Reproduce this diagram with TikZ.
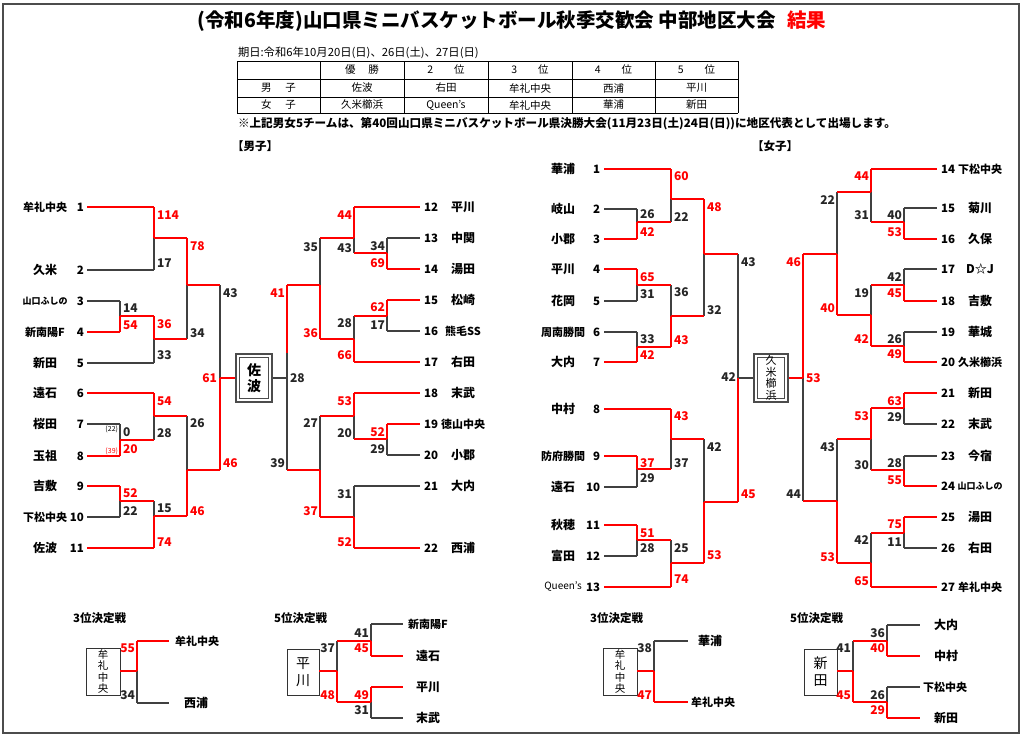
\documentclass[tikz,border=0pt]{standalone}
\usepackage{fontspec}
\setmainfont{Noto Sans CJK JP}
\newcounter{nd}
\newcommand\lb[3]{\stepcounter{nd}\node[#1] (n\arabic{nd}) at (#2) {#3};}
\newcommand\tmL[6]{\lb{#6}{#1,#3}{#5}\lb{sd,anchor=east}{#2,#3}{#4}}
\newcommand\tmR[6]{\lb{#6}{#1,#3}{#5}\lb{sd,anchor=west}{#2,#3}{#4}}
\begin{document}
\begin{tikzpicture}[x=1pt,y=-1pt,
 every node/.style={inner sep=0pt,outer sep=0pt},
 nm/.style={font=\fontsize{12}{12}\selectfont\bfseries},
 nm4/.style={font=\fontsize{11}{11}\selectfont\bfseries},
 nmq/.style={font=\fontsize{10}{10}\selectfont},
 nms/.style={font=\fontsize{9}{9}\selectfont\bfseries},
 sd/.style={font=\fontsize{11.5}{11.5}\selectfont\bfseries},
 sc/.style={font=\fontsize{12}{12}\selectfont\bfseries,text=black!85},
 scr/.style={sc,text=red},
 tiny/.style={font=\fontsize{7}{7}\selectfont},
 tb/.style={font=\fontsize{10.5}{10.5}\selectfont},
 hd/.style={font=\fontsize{11.5}{11.5}\selectfont\bfseries},
 L/.style={draw=black!75,line width=1.3pt,line cap=square},
 W/.style={draw=red,line width=2.2pt,line cap=square},
 bx/.style={draw=black!80,line width=1pt},
 dbo/.style={draw=black!70,line width=1.8pt},
 dbi/.style={draw=black!70,line width=1pt},
 ]
\useasboundingbox (0,0) rectangle (1024,736);
\fill[white] (0,0) rectangle (1024,736);
\draw[line width=2pt,black!70] (3,4) rectangle (1019,733);

% title
\lb{font=\fontsize{19.5}{19.5}\selectfont\bfseries}{512,21}{(令和6年度)山口県ミニバスケットボール秋季交歓会 中部地区大会\hspace{0.6em}\textcolor{red}{結果}}
\lb{font=\fontsize{11.3}{11.3}\selectfont,anchor=west}{238,53}{期日:令和6年10月20日(日)、26日(土)、27日(日)}
% table
\draw[line width=1pt] (237,61)--(738,61) (237,79)--(738,79) (237,97)--(738,97) (237,113)--(738,113);
\draw[line width=0.8pt] (237,61)--(237,113) (320,61)--(320,113) (404,61)--(404,113) (488,61)--(488,113) (572,61)--(572,113) (655,61)--(655,113) (738,61)--(738,113);
\lb{tb}{362,70}{優\hspace{1.2em}勝}
\lb{tb}{446,70}{2\hspace{2em}位}
\lb{tb}{530,70}{3\hspace{2em}位}
\lb{tb}{613.5,70}{4\hspace{2em}位}
\lb{tb}{696.5,70}{5\hspace{2em}位}
\lb{tb}{278.5,88}{男\hspace{1.3em}子}
\lb{tb}{362,88}{佐波}
\lb{tb}{446,88}{右田}
\lb{tb}{530,88}{牟礼中央}
\lb{tb}{613.5,88}{西浦}
\lb{tb}{696.5,88}{平川}
\lb{tb}{278.5,105}{女\hspace{1.3em}子}
\lb{tb}{362,105}{久米櫛浜}
\lb{tb}{446,105}{Queen's}
\lb{tb}{530,105}{牟礼中央}
\lb{tb}{613.5,105}{華浦}
\lb{tb}{696.5,105}{新田}
\lb{font=\fontsize{11.6}{11.6}\selectfont\bfseries,anchor=west}{238,124}{※上記男女5チームは、第40回山口県ミニバスケットボール県決勝大会(11月23日(土)24日(日))に地区代表として出場します。}
\lb{hd,anchor=west}{232,146}{【男子】}
\lb{hd,anchor=west}{752,146}{【女子】}

% ===== Boys left teams
\tmL{45}{84}{207}{1}{牟礼中央}{nm4}
\tmL{45}{84}{270}{2}{久米}{nm}
\tmL{45}{84}{301}{3}{山口ふしの}{nms}
\tmL{45}{84}{332}{4}{新南陽F}{nm4}
\tmL{45}{84}{363}{5}{新田}{nm}
\tmL{45}{84}{393}{6}{遠石}{nm}
\tmL{45}{84}{424}{7}{桜田}{nm}
\tmL{45}{84}{456}{8}{玉祖}{nm}
\tmL{45}{84}{486}{9}{吉敷}{nm}
\tmL{45}{84}{517}{10}{下松中央}{nm4}
\tmL{45}{84}{548}{11}{佐波}{nm}
% Boys right teams
\tmR{463}{424}{207}{12}{平川}{nm}
\tmR{463}{424}{238}{13}{中関}{nm}
\tmR{463}{424}{269}{14}{湯田}{nm}
\tmR{463}{424}{300}{15}{松崎}{nm}
\tmR{463}{424}{331}{16}{熊毛SS}{nm4}
\tmR{463}{424}{362}{17}{右田}{nm}
\tmR{463}{424}{393}{18}{末武}{nm}
\tmR{463}{424}{424}{19}{徳山中央}{nm4}
\tmR{463}{424}{455}{20}{小郡}{nm}
\tmR{463}{424}{486}{21}{大内}{nm}
\tmR{463}{424}{548}{22}{西浦}{nm}
% Girls left teams
\tmL{563}{600}{169}{1}{華浦}{nm}
\tmL{563}{600}{209}{2}{岐山}{nm}
\tmL{563}{600}{239}{3}{小郡}{nm}
\tmL{563}{600}{269}{4}{平川}{nm}
\tmL{563}{600}{301}{5}{花岡}{nm}
\tmL{563}{600}{332}{6}{周南勝間}{nm4}
\tmL{563}{600}{362}{7}{大内}{nm}
\tmL{563}{600}{409}{8}{中村}{nm}
\tmL{563}{600}{456}{9}{防府勝間}{nm4}
\tmL{563}{600}{487}{10}{遠石}{nm}
\tmL{563}{600}{525}{11}{秋穂}{nm}
\tmL{563}{600}{556}{12}{富田}{nm}
\tmL{563}{600}{587}{13}{Queen's}{nmq}
% Girls right teams
\tmR{980}{941}{169}{14}{下松中央}{nm4}
\tmR{980}{941}{208}{15}{菊川}{nm}
\tmR{980}{941}{239}{16}{久保}{nm}
\tmR{980}{941}{269}{17}{D☆J}{nm}
\tmR{980}{941}{301}{18}{吉敷}{nm}
\tmR{980}{941}{332}{19}{華城}{nm}
\tmR{980}{941}{362}{20}{久米櫛浜}{nm4}
\tmR{980}{941}{393}{21}{新田}{nm}
\tmR{980}{941}{424}{22}{末武}{nm}
\tmR{980}{941}{456}{23}{今宿}{nm}
\tmR{980}{941}{486}{24}{山口ふしの}{nms}
\tmR{980}{941}{517}{25}{湯田}{nm}
\tmR{980}{941}{548}{26}{右田}{nm}
\tmR{980}{941}{587}{27}{牟礼中央}{nm4}

% ===== black lines
\draw[L] (87,270)--(154,270) (87,301)--(120,301) (87,363)--(154,363) (87,424)--(120,424) (87,517)--(120,517)
 (120,301)--(120,316) (154,339)--(154,363) (154,238)--(154,270) (187,285)--(187,339) (120,424)--(120,440)
 (154,416)--(154,440) (120,501)--(120,517) (154,501)--(154,516) (187,416)--(187,470) (220,285)--(220,378);
\draw[L] (387,238)--(420,238) (387,331)--(420,331) (387,455)--(420,455) (354,486)--(420,486)
 (387,238)--(387,253) (354,238)--(354,253) (387,316)--(387,331) (354,316)--(354,339) (320,238)--(320,285)
 (387,439)--(387,455) (354,416)--(354,439) (354,486)--(354,517) (320,416)--(320,470) (287,353)--(287,470) (273,378)--(287,378);
\draw[L] (604,209)--(637,209) (604,301)--(637,301) (604,332)--(637,332) (604,487)--(637,487) (604,556)--(637,556)
 (637,209)--(637,222) (671,199)--(671,222) (637,285)--(637,301) (637,332)--(637,347) (671,285)--(671,316)
 (704,254)--(704,316) (637,469)--(637,487) (671,439)--(671,469) (637,540)--(637,556) (671,540)--(671,563)
 (704,439)--(704,502) (738,254)--(738,378) (738,378)--(753,378);
\draw[L] (904,208)--(937,208) (904,269)--(937,269) (904,332)--(937,332) (904,424)--(937,424) (904,456)--(937,456) (904,548)--(937,548)
 (904,208)--(904,222) (871,192)--(871,222) (904,269)--(904,285) (904,332)--(904,346) (871,285)--(871,315)
 (837,192)--(837,254) (904,408)--(904,424) (904,456)--(904,470) (871,439)--(871,470) (904,533)--(904,548)
 (871,533)--(871,563) (837,439)--(837,501) (803,378)--(803,501);
% ===== red lines
\draw[W] (87,207)--(154,207) (87,332)--(120,332) (87,393)--(154,393) (87,456)--(120,456) (87,486)--(120,486) (87,548)--(154,548)
 (120,316)--(120,332) (120,316)--(154,316) (154,316)--(154,339) (154,339)--(187,339) (154,207)--(154,238)
 (154,238)--(187,238) (187,238)--(187,285) (187,285)--(220,285) (120,440)--(120,456) (120,440)--(154,440)
 (154,393)--(154,416) (154,416)--(187,416) (120,486)--(120,501) (120,501)--(154,501) (154,516)--(154,548)
 (154,516)--(187,516) (187,470)--(187,516) (187,470)--(220,470) (220,378)--(220,470) (220,378)--(235,378);
\draw[W] (354,207)--(420,207) (387,269)--(420,269) (387,300)--(420,300) (354,362)--(420,362) (354,393)--(420,393)
 (387,424)--(420,424) (354,548)--(420,548)
 (387,253)--(387,269) (354,253)--(387,253) (354,207)--(354,238) (320,238)--(354,238) (387,300)--(387,316)
 (354,316)--(387,316) (354,339)--(354,362) (320,339)--(354,339) (320,285)--(320,339) (287,285)--(320,285)
 (387,424)--(387,439) (354,439)--(387,439) (354,393)--(354,416) (320,416)--(354,416) (354,517)--(354,548)
 (320,517)--(354,517) (320,470)--(320,517) (287,470)--(320,470) (287,285)--(287,353);
\draw[W] (604,169)--(671,169) (604,239)--(637,239) (604,269)--(637,269) (604,362)--(637,362) (604,409)--(671,409)
 (604,456)--(637,456) (604,525)--(637,525) (604,587)--(671,587)
 (637,222)--(637,239) (637,222)--(671,222) (671,169)--(671,199) (671,199)--(704,199) (637,269)--(637,285)
 (637,285)--(671,285) (637,347)--(637,362) (637,347)--(671,347) (671,316)--(671,347) (671,316)--(704,316)
 (704,199)--(704,254) (704,254)--(738,254) (637,456)--(637,469) (637,469)--(671,469) (671,409)--(671,439)
 (671,439)--(704,439) (637,525)--(637,540) (637,540)--(671,540) (671,563)--(671,587) (671,563)--(704,563)
 (704,502)--(704,563) (704,502)--(738,502) (738,378)--(738,502);
\draw[W] (871,169)--(937,169) (904,239)--(937,239) (904,301)--(937,301) (904,362)--(937,362) (904,393)--(937,393)
 (904,486)--(937,486) (904,517)--(937,517) (871,587)--(937,587)
 (904,222)--(904,239) (871,222)--(904,222) (871,169)--(871,192) (837,192)--(871,192) (904,285)--(904,301)
 (871,285)--(904,285) (904,346)--(904,362) (871,346)--(904,346) (871,315)--(871,346) (837,315)--(871,315)
 (837,254)--(837,315) (803,254)--(837,254) (803,254)--(803,378) (788,378)--(803,378) (904,393)--(904,408)
 (871,408)--(904,408) (904,470)--(904,486) (871,470)--(904,470) (871,408)--(871,439) (837,439)--(871,439)
 (904,517)--(904,533) (871,533)--(904,533) (871,563)--(871,587) (837,563)--(871,563) (837,501)--(837,563)
 (803,501)--(837,501);

% ===== final boxes
\draw[dbo] (236,354) rectangle (272,402);
\draw[dbi] (239.5,357.5) rectangle (268.5,398.5);
\lb{font=\fontsize{14}{15.5}\selectfont\bfseries,align=center}{254,378}{佐\\波}
\draw[dbo] (754,354) rectangle (788,402);
\draw[dbi] (757.5,357.5) rectangle (784.5,398.5);
\lb{font=\fontsize{11}{11.5}\selectfont,align=center}{771,378}{久\\米\\櫛\\浜}

% ===== boys scores
\lb{sc,anchor=west}{123,308}{14}
\lb{scr,anchor=west}{123,325}{54}
\lb{scr,anchor=west}{157,215}{114}
\lb{sc,anchor=west}{157,263}{17}
\lb{scr,anchor=west}{157,324}{36}
\lb{sc,anchor=west}{157,355}{33}
\lb{scr,anchor=west}{190,246}{78}
\lb{sc,anchor=west}{190,333}{34}
\lb{sc,anchor=west}{223,293}{43}
\lb{sc,anchor=west}{123,432}{0}
\lb{scr,anchor=west}{123,449}{20}
\lb{tiny,anchor=east}{118,429}{(22)}
\lb{tiny,text=red,anchor=east}{118,451}{(39)}
\lb{scr,anchor=west}{157,401}{54}
\lb{sc,anchor=west}{157,433}{28}
\lb{scr,anchor=west}{123,493}{52}
\lb{sc,anchor=west}{123,511}{22}
\lb{sc,anchor=west}{157,508}{15}
\lb{scr,anchor=west}{157,542}{74}
\lb{sc,anchor=west}{190,423}{26}
\lb{scr,anchor=west}{190,511}{46}
\lb{scr,anchor=west}{223,463}{46}
\lb{scr,anchor=east}{217,378}{61}
\lb{sc,anchor=east}{385,246}{34}
\lb{scr,anchor=east}{385,263}{69}
\lb{scr,anchor=east}{352,215}{44}
\lb{sc,anchor=east}{352,248}{43}
\lb{scr,anchor=east}{385,307}{62}
\lb{sc,anchor=east}{385,325}{17}
\lb{sc,anchor=east}{352,323}{28}
\lb{scr,anchor=east}{352,355}{66}
\lb{sc,anchor=east}{318,247}{35}
\lb{scr,anchor=east}{318,333}{36}
\lb{scr,anchor=east}{285,293}{41}
\lb{scr,anchor=east}{385,432}{52}
\lb{sc,anchor=east}{385,449}{29}
\lb{scr,anchor=east}{352,401}{53}
\lb{sc,anchor=east}{352,433}{20}
\lb{sc,anchor=east}{352,494}{31}
\lb{scr,anchor=east}{352,542}{52}
\lb{sc,anchor=east}{318,423}{27}
\lb{scr,anchor=east}{318,511}{37}
\lb{sc,anchor=east}{285,463}{39}
\lb{sc,anchor=west}{290,378}{28}
% ===== girls scores
\lb{sc,anchor=west}{640,214}{26}
\lb{scr,anchor=west}{640,232}{42}
\lb{scr,anchor=west}{674,176}{60}
\lb{sc,anchor=west}{674,217}{22}
\lb{scr,anchor=west}{640,277}{65}
\lb{sc,anchor=west}{640,294}{31}
\lb{sc,anchor=west}{640,339}{33}
\lb{scr,anchor=west}{640,355}{42}
\lb{sc,anchor=west}{674,292}{36}
\lb{scr,anchor=west}{674,340}{43}
\lb{scr,anchor=west}{707,207}{48}
\lb{sc,anchor=west}{707,310}{32}
\lb{sc,anchor=west}{741,262}{43}
\lb{sc,anchor=east}{736,377}{42}
\lb{scr,anchor=west}{741,494}{45}
\lb{scr,anchor=west}{640,463}{37}
\lb{sc,anchor=west}{640,478}{29}
\lb{scr,anchor=west}{674,416}{43}
\lb{sc,anchor=west}{674,463}{37}
\lb{scr,anchor=west}{640,533}{51}
\lb{sc,anchor=west}{640,548}{28}
\lb{sc,anchor=west}{674,548}{25}
\lb{scr,anchor=west}{674,579}{74}
\lb{sc,anchor=west}{707,447}{42}
\lb{scr,anchor=west}{707,555}{53}
\lb{sc,anchor=east}{902,215}{40}
\lb{scr,anchor=east}{902,232}{53}
\lb{scr,anchor=east}{869,176}{44}
\lb{sc,anchor=east}{869,215}{31}
\lb{sc,anchor=east}{902,277}{42}
\lb{scr,anchor=east}{902,293}{45}
\lb{sc,anchor=east}{902,339}{26}
\lb{scr,anchor=east}{902,354}{49}
\lb{sc,anchor=east}{869,293}{19}
\lb{scr,anchor=east}{869,339}{42}
\lb{sc,anchor=east}{835,200}{22}
\lb{scr,anchor=east}{835,308}{40}
\lb{scr,anchor=east}{801,262}{46}
\lb{scr,anchor=west}{806,378}{53}
\lb{scr,anchor=east}{902,401}{63}
\lb{sc,anchor=east}{902,417}{29}
\lb{sc,anchor=east}{902,463}{28}
\lb{scr,anchor=east}{902,480}{55}
\lb{scr,anchor=east}{869,416}{53}
\lb{sc,anchor=east}{869,465}{30}
\lb{scr,anchor=east}{902,524}{75}
\lb{sc,anchor=east}{902,542}{11}
\lb{sc,anchor=east}{869,540}{42}
\lb{scr,anchor=east}{869,581}{65}
\lb{sc,anchor=east}{835,447}{43}
\lb{scr,anchor=east}{835,557}{53}
\lb{sc,anchor=east}{801,494}{44}

% ===== placement matches
\lb{hd,anchor=west}{73,618}{3位決定戦}
\lb{hd,anchor=west}{274,618}{5位決定戦}
\lb{hd,anchor=west}{590,618}{3位決定戦}
\lb{hd,anchor=west}{790,618}{5位決定戦}
% boys 3rd
\draw[bx] (86,648) rectangle (120,695);
\lb{font=\fontsize{10.5}{11.5}\selectfont,align=center}{103,671.5}{牟\\礼\\中\\央}
\draw[L] (137,671)--(137,703) (137,703)--(169,703);
\draw[W] (120,671)--(137,671) (137,641)--(137,671) (137,641)--(169,641);
\lb{scr,anchor=east}{135,648}{55}
\lb{sc,anchor=east}{135,695}{34}
\lb{nm4,anchor=west}{175,641}{牟礼中央}
\lb{nm}{196,703}{西浦}
% boys 5th
\draw[bx] (287,649) rectangle (319,695);
\lb{font=\fontsize{14}{17}\selectfont,align=center}{303,672}{平\\川}
\draw[L] (337,641)--(337,671) (371,624)--(403,624) (371,624)--(371,641) (371,702)--(371,718) (371,718)--(403,718);
\draw[W] (319,671)--(337,671) (337,641)--(371,641) (337,671)--(337,702) (337,702)--(371,702) (371,641)--(371,656)
 (371,656)--(403,656) (371,687)--(371,702) (371,687)--(403,687);
\lb{sc,anchor=east}{335,648}{37}
\lb{scr,anchor=east}{335,695}{48}
\lb{sc,anchor=east}{369,633}{41}
\lb{scr,anchor=east}{369,648}{45}
\lb{scr,anchor=east}{369,695}{49}
\lb{sc,anchor=east}{369,710}{31}
\lb{nm4,anchor=west}{408,624}{新南陽F}
\lb{nm}{428,656}{遠石}
\lb{nm}{428,687}{平川}
\lb{nm}{428,718}{末武}
% girls 3rd
\draw[bx] (603,648) rectangle (637,695);
\lb{font=\fontsize{10.5}{11.5}\selectfont,align=center}{620,671.5}{牟\\礼\\中\\央}
\draw[L] (654,641)--(654,671) (654,641)--(688,641);
\draw[W] (637,671)--(654,671) (654,671)--(654,702) (654,702)--(688,702);
\lb{sc,anchor=east}{652,648}{38}
\lb{scr,anchor=east}{652,695}{47}
\lb{nm}{710,641}{華浦}
\lb{nm4,anchor=west}{691,702}{牟礼中央}
% girls 5th
\draw[bx] (804,649) rectangle (837,695);
\lb{font=\fontsize{14}{17}\selectfont,align=center}{820.5,672}{新\\田}
\draw[L] (853,641)--(853,671) (887,625)--(920,625) (887,625)--(887,641) (887,687)--(920,687) (887,687)--(887,702);
\draw[W] (837,671)--(853,671) (853,671)--(853,702) (853,641)--(887,641) (853,702)--(887,702) (887,641)--(887,656)
 (887,656)--(920,656) (887,702)--(887,718) (887,718)--(920,718);
\lb{sc,anchor=east}{851,648}{41}
\lb{scr,anchor=east}{851,695}{45}
\lb{sc,anchor=east}{885,633}{36}
\lb{scr,anchor=east}{885,648}{40}
\lb{sc,anchor=east}{885,695}{26}
\lb{scr,anchor=east}{885,710}{29}
\lb{nm}{946,625}{大内}
\lb{nm}{946,656}{中村}
\lb{nm4,anchor=west}{923,687}{下松中央}
\lb{nm}{946,718}{新田}
\end{tikzpicture}
\end{document}
